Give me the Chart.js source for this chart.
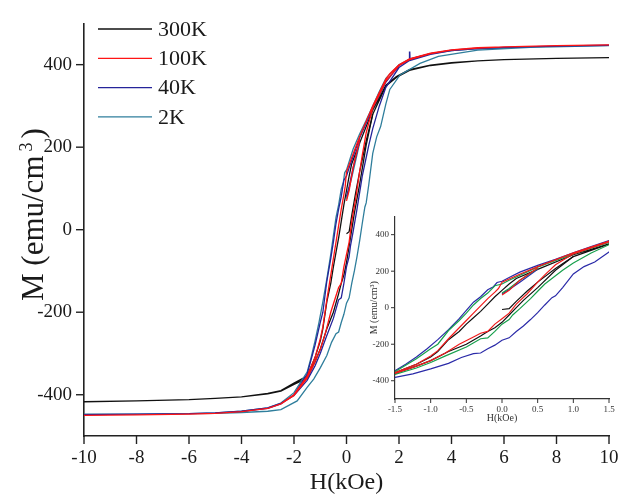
<!DOCTYPE html>
<html><head><meta charset="utf-8">
<script src="https://cdn.jsdelivr.net/npm/chart.js@4.4.0/dist/chart.umd.min.js"></script>
<style>
html,body{margin:0;padding:0;background:#fff;}
#wrap{position:relative;width:630px;height:498px;background:#fff;}
#main{position:absolute;left:0;top:0;}
#inset{position:absolute;left:350px;top:205px;}
</style></head><body>
<div id="wrap"><canvas id="main" width="630" height="498"></canvas><canvas id="inset" width="270" height="225"></canvas></div>
<script>
// ---------- data (H in kOe, M in emu/cm^3) ----------
const seriesNames = ['300K','100K','40K','2K'];

// 300K
const H_300K_down = [10,8,6,5,4,3.2,2.4,1.9,1.5,1.0,0.5,0.2,0.1,0,-0.1,-0.2,-0.3,-0.4,-0.5,-0.6,-0.75,-0.9,-1.0,-1.2,-1.5,-2.0,-2.5,-3,-4,-5,-6,-8,-10];
const M_300K_down = [417,415,412,409,405,399,388,371,350,290,210,160,130,95,60,20,-20,-55,-90,-130,-175,-240,-270,-310,-355,-372,-390,-397,-405,-409,-412,-415,-417];
const H_300K_up = [-10,-8,-6,-5,-4,-3,-2.5,-2,-1.5,-1.2,-1.0,-0.75,-0.5,-0.3,-0.2,-0.1,0,0.1,0.2,0.3,0.5,0.75,1.0,1.5,1.9,2.4,3.2,4,5,6,8,10];
const M_300K_up = [-417,-415,-412,-409,-405,-398,-391,-375,-360,-320,-290,-240,-200,-155,-130,-110,-80,-40,0,40,110,205,280,348,369,386,398,404,409,412,415,417];
const H_300K_start = [0,0.1,0.2,0.35,0.5,0.75,1.0];
const M_300K_start = [-10,-5,35,90,140,215,280];

// 100K
const H_100K_down = [10,8,6,5,4,3.2,2.4,2.0,1.65,1.5,1.0,0.5,0.2,0,-0.05,-0.1,-0.2,-0.3,-0.4,-0.5,-0.6,-0.75,-0.9,-1.0,-1.2,-1.5,-2.0,-2.5,-3,-4,-5,-6,-8,-10];
const M_100K_down = [448,446,443,441,436,428,414,400,378,365,300,225,175,140,105,85,50,10,-30,-70,-110,-170,-235,-265,-310,-355,-400,-422,-433,-441,-445,-447,-449,-450];
const H_100K_up = [-10,-8,-6,-5,-4,-3,-2.5,-2,-1.5,-1.2,-1.0,-0.8,-0.6,-0.4,-0.3,-0.2,-0.1,0,0.1,0.2,0.35,0.5,0.6,0.75,1.0,1.5,2.0,2.4,3.2,4,5,6,8,10];
const M_100K_up = [-450,-449,-447,-445,-441,-433,-422,-402,-360,-320,-290,-250,-200,-160,-140,-130,-90,-60,-30,20,75,140,180,235,295,360,398,412,427,435,440,443,446,448];
const H_100K_start = [0,0.1,0.25,0.5];
const M_100K_start = [70,95,150,218];

// 40K
const H_40K_down = [10,8,6,5,4,3.2,2.42,2.41,2.40,2.0,1.5,1.0,0.5,0.1,0,-0.1,-0.2,-0.3,-0.4,-0.5,-0.6,-0.75,-0.9,-1.0,-1.2,-1.5,-2.0,-2.5,-3,-4,-5,-6,-8,-10];
const M_40K_down = [447,445,442,440,435,427,414,432,413,398,358,295,222,150,130,120,80,50,15,-30,-70,-125,-200,-225,-280,-350,-400,-422,-433,-440,-444,-446,-447,-448];
const H_40K_up = [-10,-8,-6,-5,-4,-3,-2.5,-2,-1.5,-1.2,-1.0,-0.8,-0.5,-0.3,-0.2,-0.1,0,0.1,0.15,0.25,0.4,0.5,0.6,0.75,0.85,1.0,1.25,1.5,2.0,2.4,3.2,4,5,6,8,10];
const M_40K_up = [-448,-447,-446,-444,-440,-432,-421,-402,-365,-330,-300,-265,-215,-170,-165,-130,-90,-65,-40,-5,50,90,130,175,205,245,300,345,393,410,425,434,439,442,445,447];
const H_40K_start = [0,0.1,0.25,0.5];
const M_40K_start = [80,105,150,215];

// 2K
const H_2K_down = [10,8,6,5,4,3.2,2.4,2.0,1.5,1.25,1.0,0.75,0.5,0.25,0.1,0,-0.07,-0.12,-0.2,-0.3,-0.4,-0.5,-0.6,-0.75,-0.9,-1.05,-1.2,-1.35,-1.5,-2.0,-2.5,-3,-4,-5,-6,-8,-10];
const M_2K_down = [446,444,441,439,434,427,413,400,367,335,300,265,232,195,165,145,138,115,98,60,30,-15,-60,-120,-175,-225,-270,-310,-345,-395,-420,-432,-440,-444,-446,-447,-447];
const H_2K_up = [-10,-8,-6,-5,-4,-3,-2.5,-1.88,-1.5,-1.25,-1.0,-0.75,-0.57,-0.4,-0.3,-0.2,-0.1,0,0.1,0.2,0.3,0.4,0.5,0.6,0.7,0.75,0.85,1.0,1.15,1.3,1.5,1.65,2.04,2.8,3.5,5,7,10];
const M_2K_up = [-448,-447,-446,-445,-443,-440,-436,-415,-382,-362,-335,-305,-273,-252,-248,-225,-205,-178,-165,-130,-100,-65,-27,15,55,65,110,185,225,250,305,340,375,403,420,435,442,446];
const H_2K_start = [0,0.1,0.25,0.5];
const M_2K_start = [75,100,140,210];

// axis ranges / ticks
const mainX = {min:-10, max:10, step:1, labelEvery:2};
const mainY = {min:-500, max:500, step:100, labelEvery:200};
const insetX = {min:-1.5, max:1.5, step:0.25, labelEvery:0.5};
const insetY = {min:-500, max:500, step:100, labelEvery:200};

// ---------- helpers ----------
function pts(H, M){ return H.map((h,i)=>({x:h, y:M[i]})); }
function loop(Hd, Md, Hu, Mu){ return pts(Hd, Md).concat(pts(Hu, Mu)); }

const mainColors = {'300K':'#111111','100K':'#ff1414','40K':'#25249a','2K':'#2f7e9c'};
const insetColors = {'300K':'#111111','100K':'#f01c1c','40K':'#17a04c','2K':'#2a2aa8'};

const loops = {
  '300K': loop(H_300K_down,M_300K_down,H_300K_up,M_300K_up),
  '100K': loop(H_100K_down,M_100K_down,H_100K_up,M_100K_up),
  '40K':  loop(H_40K_down,M_40K_down,H_40K_up,M_40K_up),
  '2K':   loop(H_2K_down,M_2K_down,H_2K_up,M_2K_up)
};
const starts = {
  '300K': pts(H_300K_start,M_300K_start),
  '100K': pts(H_100K_start,M_100K_start),
  '40K':  pts(H_40K_start,M_40K_start),
  '2K':   pts(H_2K_start,M_2K_start)
};
const drawOrder = ['100K','40K','2K','300K'];

function makeDatasets(colors, width){
  const ds = [];
  drawOrder.forEach(n => {
    ds.push({label:n, data:loops[n], borderColor:colors[n], borderWidth:width, showLine:true, pointRadius:0, tension:0, fill:false});
    ds.push({label:n+' start', data:starts[n], borderColor:colors[n], borderWidth:width, showLine:true, pointRadius:0, tension:0, fill:false});
  });
  return ds;
}

const FONT = "'Liberation Serif','Times New Roman',serif";

function labelCb(every, dec){
  return function(v){
    const r = Math.round(v/every*1000)/1000;
    if (Math.abs(r - Math.round(r)) > 1e-6) return null;
    if (Math.abs(v) > 0 && Math.abs(Math.abs(v) - 500) < 1e-6) return null;
    return dec ? v.toFixed(dec) : String(Math.round(v));
  };
}

const tickMarks = {
  id:'tickMarks',
  afterDraw(chart, args, o){
    const {ctx, chartArea} = chart;
    const xs = chart.scales.x, ys = chart.scales.y;
    ctx.save();
    ctx.strokeStyle = o.color; ctx.lineWidth = o.width;
    xs.ticks.forEach(t => {
      const px = xs.getPixelForValue(t.value);
      const len = (t.label === null || t.label === undefined) ? o.minor : o.major;
      ctx.beginPath(); ctx.moveTo(px, chartArea.bottom); ctx.lineTo(px, chartArea.bottom + len); ctx.stroke();
    });
    ys.ticks.forEach(t => {
      const py = ys.getPixelForValue(t.value);
      const len = (t.label === null || t.label === undefined) ? o.minor : o.major;
      ctx.beginPath(); ctx.moveTo(chartArea.left, py); ctx.lineTo(chartArea.left - len, py); ctx.stroke();
    });
    ctx.restore();
  }
};

// y-axis title with a raised superscript "3"
const yTitle = {
  id:'yTitle',
  afterDraw(chart, args, o){
    const {ctx} = chart;
    ctx.save();
    ctx.translate(o.x, o.y);
    ctx.rotate(-Math.PI/2);
    ctx.fillStyle = o.color;
    ctx.textBaseline = 'alphabetic';
    ctx.font = o.size + 'px ' + FONT;
    const main = 'M (emu/cm';
    ctx.fillText(main, 0, 0);
    let w = ctx.measureText(main).width + o.gap;
    ctx.font = o.sup + 'px ' + FONT;
    ctx.fillText('3', w, -o.rise);
    w += ctx.measureText('3').width + o.gap;
    ctx.font = o.size + 'px ' + FONT;
    ctx.fillText(')', w, 0);
    ctx.restore();
  }
};

const legendBox = {
  id:'legendBox',
  afterDraw(chart, args, o){
    const {ctx} = chart;
    ctx.save();
    ctx.font = o.size + 'px ' + FONT;
    ctx.textBaseline = 'middle';
    seriesNames.forEach((n,i) => {
      const y = o.y0 + i*o.dy;
      ctx.strokeStyle = mainColors[n]; ctx.lineWidth = 1.3;
      ctx.beginPath(); ctx.moveTo(o.x0, y); ctx.lineTo(o.x1, y); ctx.stroke();
      ctx.fillStyle = '#1a1a1a';
      ctx.fillText(n, o.tx, y + 1);
    });
    ctx.restore();
  }
};

function scaleOpts(r, opt){
  return {
    type:'linear', min:r.min, max:r.max,
    ticks:{stepSize:r.step, autoSkip:false, maxRotation:0, includeBounds:true,
           callback:labelCb(r.labelEvery, opt.dec), font:{family:FONT, size:opt.fs}, color:opt.tc, padding:opt.pad},
    grid:{display:false, drawTicks:false},
    border:{display:true, color:opt.ac, width:opt.aw},
    title:{display:!!opt.title, text:opt.title || '', font:{family:FONT, size:opt.ts}, color:opt.tc, padding:opt.tpad},
    afterFit: opt.fit
  };
}

new Chart(document.getElementById('main'), {
  type:'scatter',
  data:{datasets:makeDatasets(mainColors, 1.3)},
  options:{
    responsive:false, animation:false, events:[],
    layout:{padding:{left:0, right:21, top:12, bottom:0}},
    plugins:{legend:{display:false}, tooltip:{enabled:false},
      tickMarks:{color:'#222', width:1.4, major:8, minor:4},
      yTitle:{x:43, y:301, size:31, sup:18, rise:11, gap:4, color:'#1a1a1a'},
      legendBox:{x0:98, x1:152, tx:158, y0:29, dy:29.3, size:22}},
    scales:{
      x: scaleOpts(mainX, {dec:0, fs:19, tc:'#1a1a1a', pad:11, ac:'#222', aw:1.6, title:'H(kOe)', ts:24, tpad:{top:0,bottom:1}, fit:s=>{s.height=62;}}),
      y: scaleOpts(mainY, {dec:0, fs:19, tc:'#1a1a1a', pad:12, ac:'#222', aw:1.6, title:null, fit:s=>{s.width=84;}})
    }
  },
  plugins:[tickMarks, yTitle, legendBox]
});

new Chart(document.getElementById('inset'), {
  type:'scatter',
  data:{datasets:makeDatasets(insetColors, 1.2)},
  options:{
    responsive:false, animation:false, events:[],
    layout:{padding:{left:0, right:11, top:9, bottom:0}},
    plugins:{legend:{display:false}, tooltip:{enabled:false},
      tickMarks:{color:'#333', width:1, major:4, minor:2.5}},
    scales:{
      x: scaleOpts(insetX, {dec:1, fs:9, tc:'#333', pad:5, ac:'#333', aw:1.2, title:'H(kOe)', ts:10, tpad:{top:0,bottom:6}, fit:s=>{s.height=31;}}),
      y: scaleOpts(insetY, {dec:0, fs:9, tc:'#333', pad:6, ac:'#333', aw:1.2, title:'M (emu/cm³)', ts:10, tpad:{top:18,bottom:0}, fit:s=>{s.width=45;}})
    }
  },
  plugins:[tickMarks]
});
</script>
</body></html>
